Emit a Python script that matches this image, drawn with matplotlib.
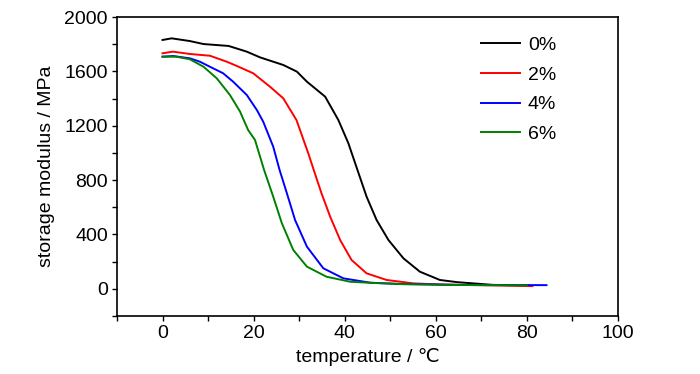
import matplotlib
matplotlib.use("Agg")
import matplotlib.pyplot as plt
from matplotlib.ticker import MultipleLocator

plt.rcParams['font.family'] = ['Liberation Sans', 'DejaVu Sans']

labels = ["0%", "2%", "4%", "6%"]
colors = ["#000000", "#ff0000", "#0000ff", "#008000"]

t0 = [0, 2, 6, 9, 14.5, 18.5, 21.4, 26.5, 29.5, 31.7, 35.7, 38.6, 40.8, 42.8, 44.8, 47.0, 49.6, 52.9, 56.5, 60.9, 64.7, 72.5, 80.4]
e0 = [1831, 1843, 1823, 1801, 1787, 1745, 1703, 1647, 1598, 1524, 1414, 1242, 1071, 874, 678, 506, 359, 224, 126, 65, 49, 29, 25]

t2 = [0, 2.3, 6, 10.4, 14.1, 16.3, 19.9, 23.6, 26.5, 29.4, 32.0, 33.2, 34.9, 36.8, 39.0, 41.5, 44.8, 49.2, 55.1, 60.8, 72.5, 81.2]
e2 = [1733, 1745, 1728, 1715, 1671, 1640, 1586, 1487, 1402, 1242, 997, 874, 703, 531, 359, 212, 114, 65, 40, 32, 25, 20]

t4 = [0, 2.3, 6, 8.2, 10.4, 13.3, 15.5, 18.5, 20.7, 22.1, 24.3, 25.7, 27.3, 29.1, 31.7, 35.3, 39.7, 45.6, 52, 64.7, 84.3]
e4 = [1708, 1713, 1696, 1671, 1634, 1586, 1524, 1426, 1316, 1230, 1046, 874, 703, 506, 310, 151, 77, 45, 36, 29, 27]

t6 = [0, 3, 6, 9, 11.9, 14.8, 17.0, 18.8, 20.3, 22.3, 24.3, 26.2, 28.7, 31.7, 36.0, 41.2, 45.8, 52.9, 65, 80]
e6 = [1708, 1708, 1689, 1634, 1549, 1426, 1305, 1168, 1095, 874, 678, 482, 286, 163, 89, 52, 44, 34, 28, 26]

temps = [t0, t2, t4, t6]
mods = [e0, e2, e4, e6]

fig = plt.figure(figsize=(7.0, 3.74), dpi=100)
ax = fig.add_axes([117/700, 1 - 316/374, (618-117)/700, (316-17)/374])

for t, e, c, l in zip(temps, mods, colors, labels):
    ax.plot(t, e, color=c, lw=1.4, label=l)

ax.set_xlim(-10, 100)
ax.set_ylim(-200, 2000)
ax.xaxis.set_major_locator(MultipleLocator(20))
ax.xaxis.set_minor_locator(MultipleLocator(10))
ax.yaxis.set_major_locator(MultipleLocator(400))
ax.yaxis.set_minor_locator(MultipleLocator(200))
ax.tick_params(which='both', direction='out', length=3.5, width=1.0, labelsize=14, pad=3)
for s in ax.spines.values():
    s.set_linewidth(1.2)

ax.set_xlabel("temperature / ℃", fontsize=14, labelpad=4)
ax.set_ylabel("storage modulus / MPa", fontsize=14, labelpad=7)

ax.legend(loc='upper left', bbox_to_anchor=(0.727, 0.935), frameon=False,
          fontsize=14, handlelength=2.0, handletextpad=0.4, labelspacing=0.62,
          borderpad=0, borderaxespad=0)

fig.savefig("out.png", dpi=100)
